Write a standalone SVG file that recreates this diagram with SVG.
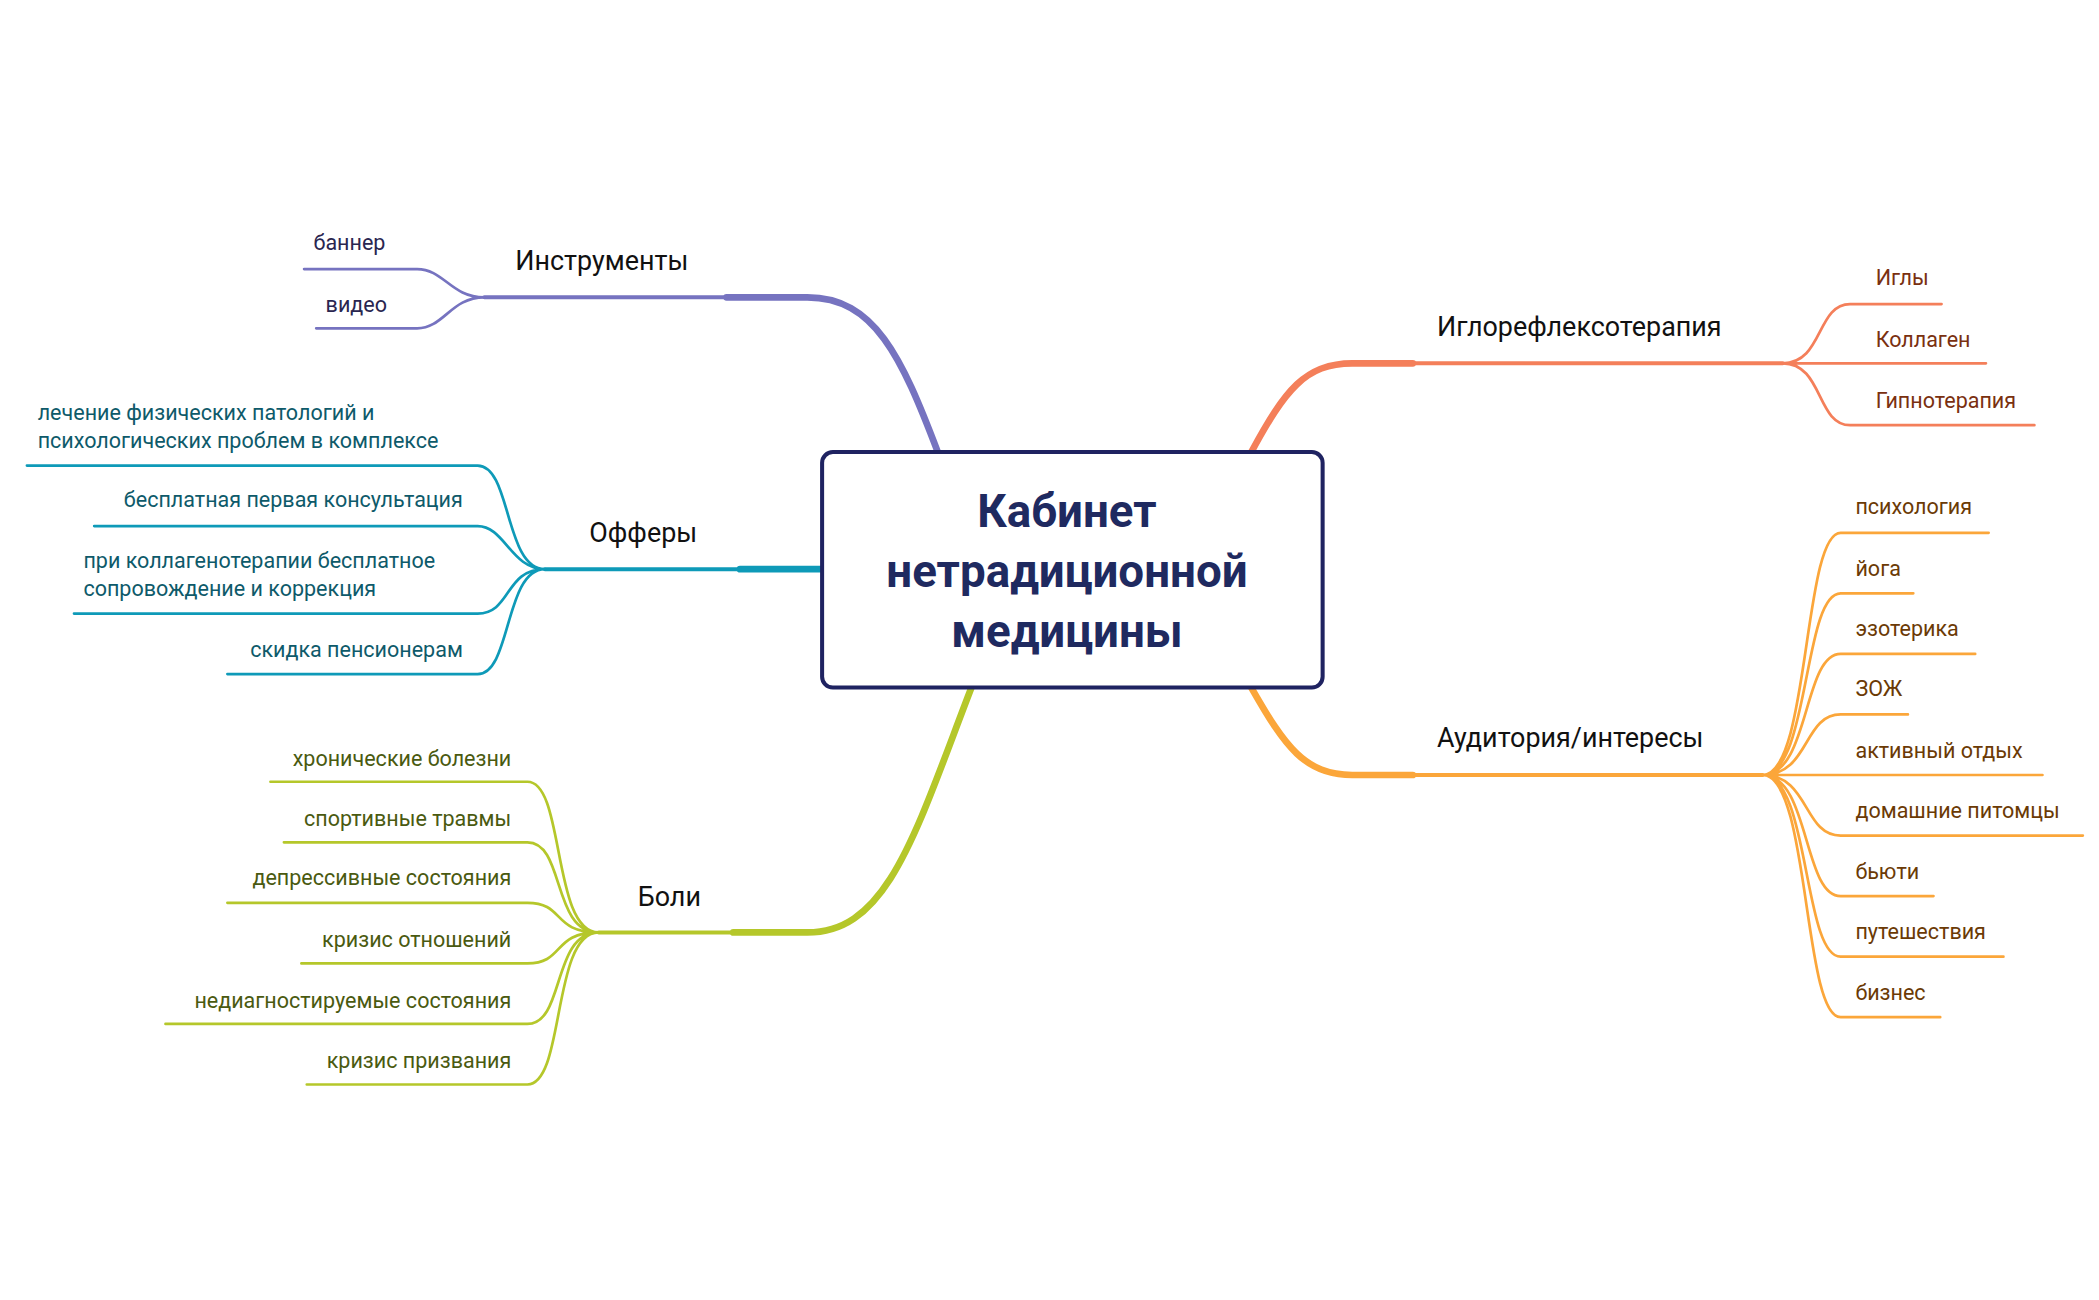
<svg xmlns="http://www.w3.org/2000/svg" width="2099" height="1300" viewBox="0 0 2099 1300">
<style>
text{font-family:Roboto,"Liberation Sans",sans-serif}
.m{font-size:20px;fill:#111}
.l{font-size:16px}
.c{fill:none;stroke-linecap:round}
.pu{stroke:#7673c0}.te{stroke:#0e9ab8}.gr{stroke:#b5c72a}.co{stroke:#f47f5a}.or{stroke:#fba63a}
.tpu{fill:#2a2650}.tte{fill:#0e5a6a}.tgr{fill:#4a5a10}.tco{fill:#7a3010}.tor{fill:#6b3a05}
</style>
<rect width="2099" height="1300" fill="#fff"/>
<g transform="scale(1.3455)">
<g id="connectors">
<path class="c pu" stroke-width="5" d="M697,336 C670,265 650,221 600,221 L540,221"/>
<path class="c pu" stroke-width="3" d="M540,221 L360,221"/>
<path class="c pu" stroke-width="2" d="M360,221 C335,221 330,200 310,200 L226,200 M360,221 C335,221 330,244 310,244 L235,244"/>
<path class="c te" stroke-width="5" d="M611,423 L550,423"/>
<path class="c te" stroke-width="3" d="M550,423 L405,423"/>
<path class="c te" stroke-width="2" d="M405,423 C375,423 380,346 355,346 L20,346 M405,423 C380,423 375,391 355,391 L70,391 M405,423 C375,423 380,456 355,456 L55,456 M405,423 C375,423 380,501 355,501 L169,501"/>
<path class="c gr" stroke-width="5" d="M722,511 C680,620 660,693 600,693 L545,693"/>
<path class="c gr" stroke-width="3" d="M545,693 L445,693"/>
<path class="c gr" stroke-width="2" d="M445,693 C410,693 420,581 392,581 L201,581 M445,693 C410,693 420,626 392,626 L211,626 M445,693 C410,693 420,671 392,671 L169,671 M445,693 C410,693 420,716 392,716 L224,716 M445,693 C410,693 420,761 392,761 L123,761 M445,693 C410,693 420,806 392,806 L228,806"/>
<path class="c co" stroke-width="5" d="M930,336 C955,290 970,270 1005,270 L1050,270"/>
<path class="c co" stroke-width="3" d="M1050,270 L1325,270"/>
<path class="c co" stroke-width="2" d="M1325,270 C1355,270 1350,226 1375,226 L1443,226 M1325,270 L1476,270 M1325,270 C1355,270 1350,316 1375,316 L1512,316"/>
<path class="c or" stroke-width="5" d="M930,511 C955,555 970,576 1005,576 L1050,576"/>
<path class="c or" stroke-width="3" d="M1050,576 L1310,576"/>
<path class="c or" stroke-width="2" d="M1310,576 C1345,576 1340,396 1368,396 L1478,396 M1310,576 C1345,576 1340,441 1368,441 L1422,441 M1310,576 C1345,576 1340,486 1368,486 L1468,486 M1310,576 C1345,576 1340,531 1368,531 L1418,531 M1310,576 L1518,576 M1310,576 C1345,576 1340,621 1368,621 L1548,621 M1310,576 C1345,576 1340,666 1368,666 L1437,666 M1310,576 C1345,576 1340,711 1368,711 L1489,711 M1310,576 C1345,576 1340,756 1368,756 L1442,756"/>
</g>
<g id="center">
<rect x="611" y="336" width="372" height="175" rx="8" fill="#fff" stroke="#1f2361" stroke-width="3"/>
<text x="793" y="392" text-anchor="middle" font-size="34" font-weight="bold" fill="#1f2a60">Кабинет</text>
<text x="793" y="436" text-anchor="middle" font-size="34" font-weight="bold" fill="#1f2a60">нетрадиционной</text>
<text x="793" y="481" text-anchor="middle" font-size="34" font-weight="bold" fill="#1f2a60">медицины</text>
</g>
<g id="instr"><text class="m" x="383" y="201">Инструменты</text>
<text class="l tpu" x="233" y="186">баннер</text><text class="l tpu" x="242" y="232">видео</text></g>
<g id="offers"><text class="m" x="438" y="403">Офферы</text>
<text class="l tte" x="28" y="312">лечение физических патологий и</text>
<text class="l tte" x="28" y="333">психологических проблем в комплексе</text>
<text class="l tte" x="344" y="377" text-anchor="end">бесплатная первая консультация</text>
<text class="l tte" x="62" y="422">при коллагенотерапии бесплатное</text>
<text class="l tte" x="62" y="443">сопровождение и коррекция</text>
<text class="l tte" x="344" y="488" text-anchor="end">скидка пенсионерам</text></g>
<g id="pains"><text class="m" x="474" y="673">Боли</text>
<text class="l tgr" x="380" y="569" text-anchor="end">хронические болезни</text>
<text class="l tgr" x="380" y="614" text-anchor="end">спортивные травмы</text>
<text class="l tgr" x="380" y="658" text-anchor="end">депрессивные состояния</text>
<text class="l tgr" x="380" y="704" text-anchor="end">кризис отношений</text>
<text class="l tgr" x="380" y="749" text-anchor="end">недиагностируемые состояния</text>
<text class="l tgr" x="380" y="794" text-anchor="end">кризис призвания</text></g>
<g id="iglo"><text class="m" x="1068" y="250">Иглорефлексотерапия</text>
<text class="l tco" x="1394" y="212">Иглы</text>
<text class="l tco" x="1394" y="258">Коллаген</text>
<text class="l tco" x="1394" y="303">Гипнотерапия</text></g>
<g id="aud"><text class="m" x="1068" y="555">Аудитория/интересы</text>
<text class="l tor" x="1379" y="382">психология</text>
<text class="l tor" x="1379" y="428">йога</text>
<text class="l tor" x="1379" y="473">эзотерика</text>
<text class="l tor" x="1379" y="517">ЗОЖ</text>
<text class="l tor" x="1379" y="563">активный отдых</text>
<text class="l tor" x="1379" y="608">домашние питомцы</text>
<text class="l tor" x="1379" y="653">бьюти</text>
<text class="l tor" x="1379" y="698">путешествия</text>
<text class="l tor" x="1379" y="743">бизнес</text></g>
</g>
</svg>
